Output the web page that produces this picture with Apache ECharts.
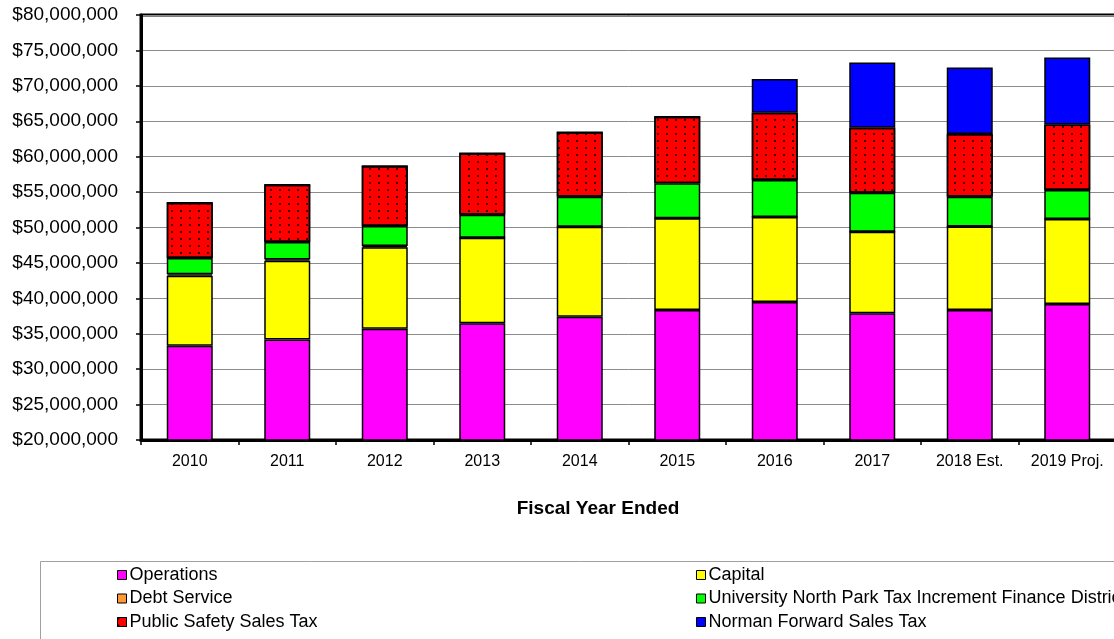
<!DOCTYPE html>
<html>
<head>
<meta charset="utf-8">
<script src="https://cdn.jsdelivr.net/npm/echarts@6/dist/echarts.min.js"></script>
<style>
  html, body { margin: 0; padding: 0; background: #fff; overflow: hidden; }
  #chart { width: 1120px; height: 639px; }
</style>
</head>
<body>
<div id="chart"></div>
<script>
const categories = ['2010', '2011', '2012', '2013', '2014', '2015', '2016', '2017', '2018 Est.', '2019 Proj.'];
const operations = [33300000, 34200000, 35700000, 36500000, 37400000, 38350000, 39500000, 37900000, 38350000, 39200000];
const capital = [9900000, 11100000, 11500000, 12050000, 12700000, 12950000, 12000000, 11500000, 11800000, 12000000];
const debtService = [200000, 200000, 200000, 0, 0, 0, 0, 0, 0, 0];
const universityNorthPark = [2300000, 2450000, 2800000, 3250000, 4250000, 4950000, 5200000, 5500000, 4200000, 4100000];
const publicSafety = [7800000, 8100000, 8500000, 8700000, 9100000, 9400000, 9500000, 9200000, 8850000, 9250000];
const normanForward = [0, 0, 0, 0, 0, 0, 4750000, 9200000, 9400000, 9450000];
const yTicks = { min: 20000000, max: 80000000, interval: 5000000 };
const xTitle = 'Fiscal Year Ended';

const FONT = "'Liberation Sans', Arial, sans-serif";
const border = { borderColor: '#000', borderWidth: 1.5 };

function barSeries(name, data, color, extra) {
  return Object.assign({
    name: name,
    type: 'bar',
    stack: 'total',
    data: data,
    barWidth: 46,
    xAxisIndex: 0,
    itemStyle: Object.assign({ color: color }, border),
    emphasis: { disabled: true }
  }, extra || {});
}

const legendText = { fontFamily: FONT, fontSize: 18, color: '#000', lineHeight: 18, padding: [0, 0, 0, -2] };

const chart = echarts.init(document.getElementById('chart'), null, { renderer: 'canvas' });
chart.setOption({
  animation: false,
  backgroundColor: '#fff',
  textStyle: { fontFamily: FONT },
  grid: {
    left: 141, right: 4, top: 15, bottom: 199,
    show: true, borderColor: '#000', borderWidth: 3, backgroundColor: 'transparent'
  },
  xAxis: [
    {
      type: 'category',
      data: categories,
      axisLine: { show: true, lineStyle: { color: '#000', width: 3 } },
      axisTick: { show: true, inside: false, length: 5, lineStyle: { color: '#000', width: 1.5 } },
      axisLabel: { fontFamily: FONT, fontSize: 16, color: '#000', margin: 14 }
    },
    {
      type: 'category',
      data: categories,
      position: 'bottom',
      axisLine: { show: false },
      axisTick: { show: true, inside: true, alignWithLabel: true, length: 4, lineStyle: { color: '#000', width: 1.5 } },
      axisLabel: { show: false },
      splitLine: { show: false }
    }
  ],
  yAxis: {
    type: 'value',
    min: yTicks.min,
    max: yTicks.max,
    interval: yTicks.interval,
    axisLine: { show: true, lineStyle: { color: '#000', width: 3 } },
    axisTick: { show: true, inside: false, length: 5, lineStyle: { color: '#000', width: 1.5 } },
    axisLabel: {
      fontFamily: FONT, fontSize: 19, color: '#000', margin: 23,
      formatter: function (v) { return '$' + v.toLocaleString('en-US'); }
    },
    splitLine: { show: true, lineStyle: { color: '#8c8c8c', width: 1 } }
  },
  legend: [
    {
      orient: 'vertical', left: 112, top: 561,
      itemWidth: 9, itemHeight: 9, itemGap: 5.5, icon: 'rect',
      textStyle: legendText,
      itemStyle: { borderColor: '#000', borderWidth: 1 },
      data: ['Operations', 'Debt Service', 'Public Safety Sales Tax']
    },
    {
      orient: 'vertical', left: 691, top: 561,
      itemWidth: 9, itemHeight: 9, itemGap: 5.5, icon: 'rect',
      textStyle: legendText,
      itemStyle: { borderColor: '#000', borderWidth: 1 },
      data: ['Capital', 'University North Park Tax Increment Finance District', 'Norman Forward Sales Tax']
    }
  ],
  graphic: [
    {
      type: 'rect', silent: true, z: -1,
      shape: { x: 40.5, y: 561.5, width: 1200, height: 200 },
      style: { fill: 'none', stroke: '#a0a0a0', lineWidth: 1 }
    },
    {
      type: 'text', silent: true,
      x: 598, y: 509,
      style: {
        text: xTitle, fontFamily: FONT, fontSize: 19, fontWeight: 'bold', fill: '#000',
        align: 'center', verticalAlign: 'middle'
      }
    }
  ],
  series: [
    barSeries('Operations', operations, '#ff00ff'),
    barSeries('Capital', capital, '#ffff00'),
    barSeries('Debt Service', debtService, '#ff9933'),
    barSeries('University North Park Tax Increment Finance District', universityNorthPark, '#00ff00'),
    barSeries('Public Safety Sales Tax', publicSafety, '#ff0000', {
      itemStyle: Object.assign({
        color: '#ff0000',
        decal: {
          symbol: 'circle', symbolSize: 1, color: '#000',
          dashArrayX: [1.6, 6.4], dashArrayY: [1.6, 4.4], rotation: 0
        }
      }, border)
    }),
    barSeries('Norman Forward Sales Tax', normanForward, '#0000ff')
  ]
});
</script>
</body>
</html>
